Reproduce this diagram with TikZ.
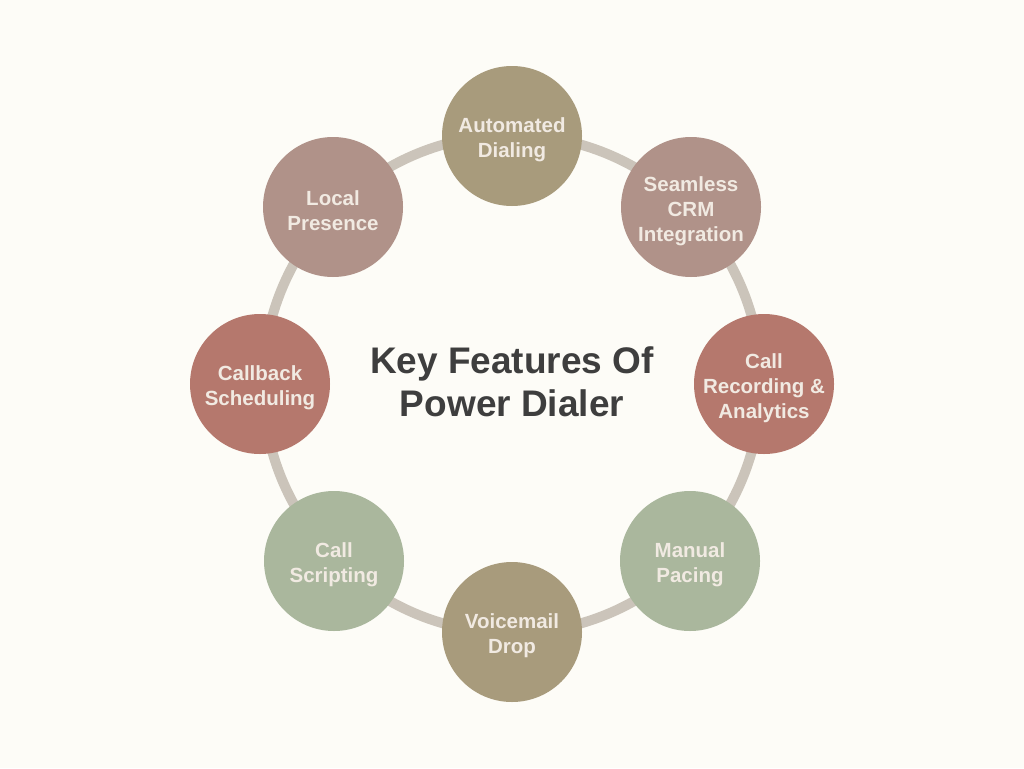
\documentclass[tikz,border=0pt]{standalone}
\usepackage{fontspec}
\setmainfont{Liberation Sans}
\definecolor{bg}{HTML}{FDFCF7}
\definecolor{ring}{HTML}{CBC4BA}
\definecolor{olive}{HTML}{A89B7C}
\definecolor{mauve}{HTML}{B09289}
\definecolor{rust}{HTML}{B5786D}
\definecolor{sage}{HTML}{AAB79D}
\definecolor{lbl}{HTML}{F1EAE2}
\definecolor{ttl}{HTML}{3E3E3E}
\begin{document}
\begin{tikzpicture}[x=1pt,y=-1pt,
  feat/.style={circle,minimum size=140pt,inner sep=0pt,
    label={[text=lbl,align=center,yshift=-4pt,
      font=\bfseries\fontsize{20.5}{25}\selectfont]center:#1}},
]
\fill[bg] (0,0) rectangle (1024,768);
\useasboundingbox (0,0) rectangle (1024,768);
\coordinate (c) at (512,384);
\draw[ring,line width=10pt] (c) circle[radius=249];
\node[feat={Automated\\Dialing},fill=olive] (ad) at (512,136) {};
\node[feat={Seamless\\CRM\\Integration},fill=mauve] (crm) at (691,207) {};
\node[feat={Call\\Recording \&\\Analytics},fill=rust] (rec) at (764,384) {};
\node[feat={Manual\\Pacing},fill=sage] (mp) at (690,561) {};
\node[feat={Voicemail\\Drop},fill=olive] (vd) at (512,632) {};
\node[feat={Call\\Scripting},fill=sage] (cs) at (334,561) {};
\node[feat={Callback\\Scheduling},fill=rust] (cb) at (260,384) {};
\node[feat={Local\\Presence},fill=mauve] (lp) at (333,207) {};
\node[text=ttl,align=center,font=\bfseries\fontsize{37}{43}\selectfont] (t) at (512,382) {Key Features Of\\Power Dialer};
\end{tikzpicture}
\end{document}
